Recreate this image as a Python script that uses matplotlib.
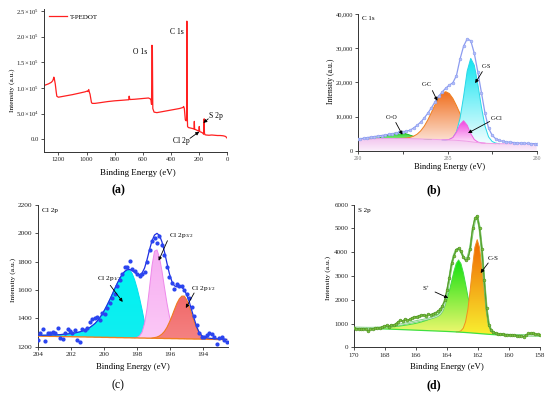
import numpy as np
import matplotlib
matplotlib.use('Agg')
import matplotlib.pyplot as plt
from matplotlib.colors import LinearSegmentedColormap
from matplotlib.patches import Polygon

plt.rcParams['font.family'] = ['Liberation Serif', 'DejaVu Serif']
plt.rcParams['mathtext.fontset'] = 'custom'
plt.rcParams['mathtext.rm'] = 'Liberation Serif'
plt.rcParams['mathtext.it'] = 'Liberation Serif:italic'
plt.rcParams['mathtext.bf'] = 'Liberation Serif:bold'

# ---------------- (a) survey spectrum ----------------
xa = [1300, 1290, 1270, 1250, 1240, 1235, 1232, 1228, 1222, 1215, 1211, 1200, 1180, 1150, 1100,
      1050, 1010, 995, 990, 984, 980, 975, 965, 960, 940, 900, 850, 800, 750, 705, 700, 697, 692,
      660, 620, 580, 560, 548, 542, 538, 535, 532, 529, 520, 500, 460, 420, 380, 340, 315, 310,
      305, 298, 292, 289, 287, 285, 282, 276, 260, 245, 236, 234, 232, 225, 210, 202, 199, 196,
      185, 178, 172, 168, 166, 164, 162, 158, 150, 130, 110, 90, 70, 50, 30, 15, 5, 0]
ya = [105e3, 106e3, 108e3, 111e3, 114e3, 118e3, 121e3, 117e3, 108e3, 92e3, 84e3, 82e3, 83e3, 84.5e3, 87e3,
      90e3, 92.5e3, 94e3, 93e3, 97e3, 92e3, 88e3, 72e3, 70e3, 70e3, 71.5e3, 73.5e3, 75e3, 76e3, 77e3, 77e3, 84e3, 77.5e3,
      78e3, 79e3, 80e3, 80.5e3, 79e3, 77e3, 68e3, 183e3, 178e3, 60e3, 53e3, 52e3, 54e3, 56e3, 58e3, 60e3, 62e3, 64e3,
      60e3, 38e3, 36e3, 40e3, 230e3, 60e3, 25e3, 23e3, 22e3, 21e3, 20e3, 35e3, 20e3, 19e3, 17e3, 16e3, 25e3, 15e3,
      14e3, 13e3, 11.5e3, 10e3, 38e3, 40e3, 12e3, 9e3, 8.5e3, 8e3, 8.5e3, 8e3, 7.5e3, 7.5e3, 7e3, 6e3, 4e3, 2e3]
a_yticks = [0, 5e4, 1e5, 1.5e5, 2e5, 2.5e5]
a_yticklabels = ['0.0', '5.0×10$^4$', '1.0×10$^5$', '1.5×10$^5$', '2.0×10$^5$', '2.5×10$^5$']
a_xticks = [1200, 1000, 800, 600, 400, 200, 0]

# ---------------- (b) C 1s ----------------
xb = [290.0, 289.9, 289.7, 289.5, 289.3, 289.1, 288.9, 288.7, 288.5, 288.3, 288.1, 287.9, 287.7,
      287.5, 287.3, 287.1, 286.9, 286.7, 286.5, 286.3, 286.1, 285.9, 285.7, 285.5, 285.3, 285.1,
      284.9, 284.7, 284.5, 284.3, 284.1, 283.9, 283.7, 283.5, 283.3, 283.1, 282.9, 282.7, 282.5,
      282.3, 282.1, 281.9, 281.7, 281.5, 281.3, 281.1, 280.9, 280.7, 280.5, 280.3, 280.1, 280.0]
data_b = [3400, 3500, 3650, 3850, 4000, 4150, 4300, 4450, 4600, 4780,
          4950, 5150, 5400, 5580, 5700, 6000, 6650, 7450, 8400, 9600,
          11000, 12600, 14300, 15900, 17200, 18300, 19200, 19900, 22000, 26800,
          30600, 32700, 32200, 28500, 23000, 17000, 11000, 6600, 4500, 3500,
          3000, 2750, 2600, 2500, 2400, 2300, 2250, 2200, 2150, 2100, 2050, 2050]
base_b = [3400, 3420, 3450, 3480, 3500, 3520, 3540, 3560, 3570, 3580, 3590, 3590, 3580, 3570,
          3550, 3530, 3500, 3470, 3440, 3400, 3370, 3330, 3300, 3260, 3220, 3180, 3140, 3090,
          3030, 2960, 2870, 2760, 2630, 2500, 2380, 2280, 2200, 2140, 2100, 2080, 2060] + [2050] * 11
co_b = [0] * 4 + [45, 105, 220, 415, 690, 1020, 1350, 1610, 1700, 1610, 1350, 1020, 690, 415, 220, 105, 45] + [0] * 31
cc_b = [0] * 12 + [30, 78, 175, 380, 750, 1390, 2400, 3830, 5710, 7900, 10180, 12200, 13600, 14100,
                   13600, 12200, 10180, 7900, 5710, 3830, 2400, 1390, 750, 380, 175, 78, 30] + [0] * 13
cs_b = [0] * 25 + [30, 150, 700, 2500, 6500, 13000, 20500, 24400, 22500, 17000, 10500, 5000, 1900, 600, 150] + [0] * 12
ccl_b = [0] * 25 + [20, 160, 770, 2390, 4700, 5900, 4700, 2390, 770, 160, 20] + [0] * 16
b_yticks = [0, 10000, 20000, 30000, 40000]
b_yticklabels = ['0', '10,000', '20,000', '30,000', '40,000']
b_xticks = [290, 285, 280]

# ---------------- (c) Cl 2p ----------------
xc = [204.00, 203.85, 203.70, 203.55, 203.40, 203.25, 203.10, 202.95, 202.80, 202.65, 202.50,
      202.35, 202.20, 202.05, 201.90, 201.75, 201.60, 201.45, 201.30, 201.15, 201.00, 200.85,
      200.70, 200.55, 200.40, 200.25, 200.10, 199.95, 199.80, 199.65, 199.50, 199.35, 199.20,
      199.05, 198.90, 198.75, 198.60, 198.45, 198.30, 198.15, 198.00, 197.85, 197.70, 197.55,
      197.40, 197.25, 197.10, 196.95, 196.80, 196.65, 196.50, 196.35, 196.20, 196.05, 195.90,
      195.75, 195.60, 195.45, 195.30, 195.15, 195.00, 194.85, 194.70, 194.55, 194.40, 194.25,
      194.10, 193.95, 193.80, 193.65, 193.50, 193.35, 193.20, 193.05, 192.90, 192.75, 192.60]
dots_c = [1250, 1300, 1325, 1240, 1295, 1300, 1305, 1300, 1330, 1260, 1255,
          1300, 1325, 1310, 1300, 1320, 1245, 1230, 1325, 1320, 1335, 1375,
          1395, 1405, 1410, 1390, 1440, 1430, 1470, 1505, 1545, 1575, 1625,
          1670, 1710, 1760, 1760, 1805, 1745, 1735, 1715, 1700, 1715, 1730,
          1800, 1880, 1945, 1965, 1935, 1980, 1915, 1850, 1760, 1690, 1650,
          1605, 1640, 1625, 1630, 1600, 1570, 1545, 1480, 1415, 1350, 1300,
          1270, 1265, 1285, 1295, 1290, 1270, 1220, 1260, 1265, 1245, 1235]
env_c = [1281, 1281, 1281, 1281, 1282, 1282, 1283, 1284, 1284, 1285, 1287,
         1288, 1290, 1292, 1294, 1297, 1301, 1305, 1311, 1318, 1326, 1336,
         1349, 1363, 1382, 1405, 1431, 1462, 1496, 1532, 1570, 1609, 1647,
         1681, 1710, 1731, 1743, 1745, 1738, 1724, 1712, 1708, 1720, 1755,
         1815, 1885, 1948, 1988, 2000, 1985, 1940, 1870, 1790, 1715, 1660,
         1630, 1622, 1625, 1620, 1600, 1565, 1515, 1455, 1395, 1340, 1300,
         1278, 1268, 1263, 1260, 1258, 1257, 1256, 1255, 1254, 1253, 1252]
base_c = [1275, 1275, 1274, 1274, 1274, 1273, 1273, 1273, 1272, 1272, 1272,
          1271, 1271, 1271, 1270, 1270, 1270, 1269, 1269, 1269, 1268, 1268,
          1268, 1267, 1267, 1267, 1266, 1266, 1266, 1265, 1265, 1265, 1264,
          1264, 1264, 1263, 1263, 1263, 1262, 1262, 1262, 1261, 1261, 1261,
          1260, 1260, 1260, 1260, 1259, 1259, 1259, 1258, 1258, 1258, 1257,
          1257, 1257, 1256, 1256, 1256, 1255, 1255, 1255, 1254, 1254, 1254,
          1253, 1253, 1253, 1252, 1252, 1252, 1251, 1251, 1251, 1250, 1250]
cyan_c = [6, 6, 7, 7, 8, 9, 10, 11, 12, 13, 15, 17, 19, 21, 24, 27, 31, 36, 42, 49, 58, 68, 81, 96,
          115, 138, 165, 196, 230, 267, 305, 344, 382, 417, 446, 468, 480, 478, 455, 410, 350, 280,
          200, 110, 30, 5] + [0] * 31
pink_c = [0] * 40 + [4, 15, 42, 103, 209, 357, 512, 614, 624, 570, 475, 361, 250, 157, 91, 48, 23, 10, 4] + [0] * 18
red_c = [0] * 47 + [4, 9, 17, 30, 50, 78, 115, 158, 204, 248, 282, 301, 301, 275, 229, 174, 121, 76,
                    44, 23, 11, 5] + [0] * 8
c_yticks = [1200, 1400, 1600, 1800, 2000, 2200]
c_xticks = [204, 202, 200, 198, 196, 194]

# ---------------- (d) S 2p ----------------
xd = [170.00, 169.85, 169.70, 169.55, 169.40, 169.25, 169.10, 168.95, 168.80, 168.65,
      168.50, 168.35, 168.20, 168.05, 167.90, 167.75, 167.60, 167.45, 167.30, 167.15,
      167.00, 166.85, 166.70, 166.55, 166.40, 166.25, 166.10, 165.95, 165.80, 165.65,
      165.50, 165.35, 165.20, 165.05, 164.90, 164.75, 164.60, 164.45, 164.30, 164.15,
      164.00, 163.85, 163.70, 163.55, 163.40, 163.25, 163.10, 162.95, 162.80, 162.65,
      162.50, 162.35, 162.20, 162.05, 161.90, 161.75, 161.60, 161.45, 161.30, 161.15,
      161.00, 160.85, 160.70, 160.55, 160.40, 160.25, 160.10, 159.95, 159.80, 159.65,
      159.50, 159.35, 159.20, 159.05, 158.90, 158.75, 158.60, 158.45, 158.30, 158.15, 158.00]
data_d = [800, 790, 780, 770, 790, 760, 700, 760, 780, 800,
          820, 810, 850, 900, 930, 880, 950, 930, 1000, 1080,
          1150, 1100, 1200, 1140, 1180, 1250, 1280, 1300, 1330, 1350,
          1370, 1330, 1400, 1380, 1420, 1450, 1520, 1600, 1750, 1980,
          2430, 2930, 3540, 3850, 4110, 4170, 4050, 3790, 3660, 3750,
          4150, 5000, 5420, 5540, 5000, 4150, 2850, 1650, 950, 720,
          650, 600, 580, 560, 560, 540, 540, 530, 520, 510,
          500, 480, 470, 460, 520, 590, 600, 590, 560, 550, 520]
env_d = [830, 828, 826, 824, 822, 820, 819, 819, 820, 822,
         826, 832, 840, 850, 862, 876, 891, 907, 924, 942,
         961, 981, 1001, 1021, 1041, 1061, 1081, 1101, 1121, 1141,
         1161, 1182, 1204, 1228, 1255, 1288, 1330, 1400, 1540, 1800,
         2280, 2880, 3480, 3880, 4110, 4150, 4030, 3820, 3700, 3800,
         4200, 4850, 5350, 5480, 5050, 4100, 2800, 1650, 960, 720,
         630, 590, 565, 550, 540, 533, 528, 524, 521, 518,
         516, 514, 512, 511, 510, 509, 508, 507, 506, 505, 505]
base_d = [820, 818, 815, 812, 809, 806, 803, 800, 797, 794,
          790, 787, 783, 780, 776, 773, 769, 765, 762, 758,
          754, 750, 746, 742, 738, 734, 730, 726, 722, 718,
          714, 710, 706, 702, 698, 694, 690, 686, 682, 678,
          674, 669, 664, 659, 654, 648, 642, 636, 629, 622,
          615, 607, 600, 592, 584, 576, 568, 561, 554, 547,
          541, 535, 530, 526, 522, 519, 516, 514, 512, 510,
          508, 507, 506, 505, 504, 503, 502, 501, 501, 500, 500]
splus_d = [9, 11, 13, 15, 18, 21, 24, 28, 32, 37,
           42, 48, 55, 63, 72, 82, 94, 107, 121, 136,
           152, 170, 188, 207, 228, 250, 272, 297, 325, 355,
           390, 425, 465, 510, 560, 620, 700, 790, 910, 1090,
           1360, 1700, 2120, 2545, 2880, 3030, 2880, 2515, 2030, 1515,
           1120, 820, 590, 425, 303, 218, 158, 112, 79, 55,
           36, 24, 15, 9, 5, 2] + [0] * 15
cs_d = [0] * 45 + [16, 58, 176, 455, 989, 1813, 2790, 3615, 3940, 3615, 2790, 1813, 900, 380, 130, 40, 10] + [0] * 19
d_yticks = [0, 1000, 2000, 3000, 4000, 5000, 6000]
d_xticks = [170, 168, 166, 164, 162, 160, 158]


# ---------------- helpers ----------------
def grad_fill(ax, x, lo, hi, c_top, c_bot, z):
    x = np.asarray(x, float)
    lo = np.asarray(lo, float)
    hi = np.asarray(hi, float)
    verts = np.concatenate([np.column_stack([x, hi]), np.column_stack([x[::-1], lo[::-1]])])
    patch = Polygon(verts, closed=True, facecolor='none', edgecolor='none', transform=ax.transData)
    ax.add_patch(patch)
    cmap = LinearSegmentedColormap.from_list('g', [c_bot, c_top])
    grad = np.linspace(0, 1, 256).reshape(-1, 1)
    im = ax.imshow(grad, cmap=cmap, origin='lower', aspect='auto',
                   extent=(x.min(), x.max(), lo.min(), hi.max()), zorder=z,
                   interpolation='bilinear')
    im.set_clip_path(patch)


def component(ax, x, base, peak, c_top, c_bot, edge, z, lw=0.7):
    x = np.asarray(x, float)
    base = np.asarray(base, float)
    peak = np.asarray(peak, float)
    nz = np.nonzero(peak)[0]
    i0 = max(nz[0] - 1, 0)
    i1 = min(nz[-1] + 2, len(x))
    xs = x[i0:i1]
    lo = base[i0:i1]
    hi = lo + peak[i0:i1]
    grad_fill(ax, xs, lo, hi, c_top, c_bot, z)
    ax.plot(xs, hi, color=edge, lw=lw, zorder=z + 0.5)


def style(ax, fs):
    for s in ['top', 'right']:
        ax.spines[s].set_visible(False)
    for s in ['left', 'bottom']:
        ax.spines[s].set_linewidth(0.7)
        ax.spines[s].set_color('#333333')
    ax.tick_params(direction='out', length=2.5, width=0.6, labelsize=fs, pad=1.5,
                   color='#333333', labelcolor='#222222')


def arrow(ax, tail, head):
    ax.annotate('', xy=head, xytext=tail,
                arrowprops=dict(arrowstyle='-|>', color='black', lw=0.6,
                                mutation_scale=5, shrinkA=0, shrinkB=0), zorder=10)


fig = plt.figure(figsize=(5.5, 3.96), dpi=100)

# ================= (a) =================
axA = fig.add_axes([0.0805, 0.6169, 0.3327, 0.3596])
axA.plot(xa, ya, color='#ff2020', lw=0.9, label='T-PEDOT')
axA.set_xlim(1300, 0)
axA.set_ylim(-24000, 253000)
axA.set_xticks(a_xticks)
axA.set_yticks(a_yticks)
axA.set_yticklabels(a_yticklabels)
style(axA, 4.8)
axA.legend(loc='upper left', frameon=False, fontsize=5, handlelength=2.6,
           borderaxespad=0.25, handletextpad=0.5)
axA.text(620, 1.69e5, 'O 1s', fontsize=5.5, ha='center', va='center')
axA.text(359, 2.09e5, 'C 1s', fontsize=5.5, ha='center', va='center')
axA.text(80, 0.45e5, 'S 2p', fontsize=5.5, ha='center', va='center')
axA.text(324, -0.33e4, 'Cl 2p', fontsize=5.5, ha='center', va='center')
arrow(axA, (135, 0.40e5), (170, 0.32e5))
arrow(axA, (265, 0.2e4), (199, 1.5e4))
axA.set_xlabel('Binding Energy (eV)', fontsize=6.5)
axA.xaxis.label.set_va('center')
axA.xaxis.set_label_coords(0.512, -0.147)
axA.set_ylabel('Intensity (a.u.)', fontsize=5.3)
axA.yaxis.label.set_va('center')
axA.yaxis.set_label_coords(-0.174, 0.433)

# ================= (b) =================
axB = fig.add_axes([0.6515, 0.6194, 0.3244, 0.3452])
xb_arr = np.asarray(xb, float)
grad_fill(axB, xb_arr, np.zeros(len(xb)), base_b, '#f2c4ee', '#fbeefb', 1)
component(axB, xb, base_b, co_b, '#22d022', '#7ee87e', '#22b822', 2)
component(axB, xb, base_b, cc_b, '#f07020', '#fde8de', '#f08020', 3)
component(axB, xb, base_b, cs_b, '#10e4f0', '#f2feff', '#28d8e8', 4)
component(axB, xb, base_b, ccl_b, '#f040e0', '#fde4fa', '#f060e0', 5)
axB.plot(xb, base_b, color='#f0a0e8', lw=0.7, zorder=6)
axB.plot(xb, data_b, color='#8c9cf0', lw=0.9, marker='o', ms=2.0, mfc='#b4c0f8',
         mec='#8c9cf0', mew=0.4, zorder=7)
axB.set_xlim(290, 280)
axB.set_ylim(0, 40000)
axB.set_xticks(b_xticks)
axB.set_xticks([287.5, 282.5], minor=True)
axB.set_yticks(b_yticks)
axB.set_yticklabels(b_yticklabels)
style(axB, 4.6)
axB.tick_params(axis='x', which='both', labelsize=4.0, labelcolor='#777777')
axB.tick_params(axis='x', which='minor', length=2.0, width=0.5)
axB.text(0.022, 0.968, 'C 1s', transform=axB.transAxes, fontsize=5, ha='left', va='center')
axB.text(288.14, 9840, 'C=O', fontsize=4.3, ha='center', va='center')
arrow(axB, (287.9, 8260), (287.53, 4670))
axB.text(286.15, 19270, 'C-C', fontsize=4.3, ha='center', va='center')
arrow(axB, (285.85, 17600), (285.57, 14600))
axB.text(282.83, 24600, 'C-S', fontsize=4.3, ha='center', va='center')
arrow(axB, (283.05, 23150), (283.45, 19770))
axB.text(282.23, 9430, 'C-Cl', fontsize=4.3, ha='center', va='center')
arrow(axB, (282.64, 8560), (283.85, 5170))
axB.set_xlabel('Binding Energy (eV)', fontsize=6.0)
axB.xaxis.label.set_va('center')
axB.xaxis.set_label_coords(0.512, -0.117)
axB.set_ylabel('Intensity (a.u.)', fontsize=5.6)
axB.yaxis.label.set_va('center')
axB.yaxis.set_label_coords(-0.153, 0.505)

# ================= (c) =================
axC = fig.add_axes([0.0685, 0.1245, 0.3465, 0.3578])
component(axC, xc, base_c, cyan_c, '#00f2f2', '#10eef0', '#00e0f0', 2)
component(axC, xc, base_c, pink_c, '#f7aef2', '#fbc8f6', '#ee88ea', 3)
component(axC, xc, base_c, red_c, '#f06868', '#f58282', '#f07a20', 4, lw=0.8)
axC.plot(xc, base_c, color='#f08020', lw=1.0, zorder=5)
axC.plot(xc, env_c, color='#1f2fe0', lw=0.9, zorder=6)
axC.plot(xc, dots_c, ls='none', marker='o', ms=2.0, mfc='#2a44f0', mec='#2a44f0', zorder=7)
axC.set_xlim(204, 192.5)
axC.set_ylim(1200, 2200)
axC.set_xticks(c_xticks)
axC.set_yticks(c_yticks)
style(axC, 5.3)
axC.text(0.021, 0.96, 'Cl 2p', transform=axC.transAxes, fontsize=5.2, ha='left', va='center')
axC.text(199.66, 1678, 'Cl 2p$_{1/2}$', fontsize=5.3, ha='center', va='center')
arrow(axC, (199.62, 1633), (198.87, 1516))
axC.text(195.34, 1984, 'Cl 2p$_{3/2}$', fontsize=5.3, ha='center', va='center')
arrow(axC, (196.17, 1948), (196.7, 1807))
axC.text(194.02, 1610, 'Cl 2p$_{1/2}$', fontsize=5.3, ha='center', va='center')
arrow(axC, (194.56, 1579), (195.06, 1473))
axC.set_xlabel('Binding Energy (eV)', fontsize=6.3)
axC.xaxis.label.set_va('center')
axC.xaxis.set_label_coords(0.502, -0.145)
axC.set_ylabel('Intensity (a.u.)', fontsize=5.4)
axC.yaxis.label.set_va('center')
axC.yaxis.set_label_coords(-0.131, 0.473)

# ================= (d) =================
axD = fig.add_axes([0.6436, 0.1225, 0.3382, 0.3606])
component(axD, xd, base_d, splus_d, '#10e010', '#f4f870', '#40dd40', 2)
component(axD, xd, base_d, cs_d, '#f06400', '#f8f030', '#f09020', 3)
axD.plot(xd, base_d, color='#40e040', lw=0.9, zorder=4)
axD.plot(xd, env_d, color='#70d070', lw=1.6, zorder=5)
axD.plot(xd, env_d, color='#e8e8e8', lw=0.5, zorder=5.2)
axD.plot(xd, data_d, color='#5aa02c', lw=1.0, marker='o', ms=2.0, mfc='#7cc040',
         mec='#4a9020', mew=0.4, zorder=6)
axD.set_xlim(170, 158)
axD.set_ylim(0, 6000)
axD.set_xticks(d_xticks)
axD.set_yticks(d_yticks)
style(axD, 5.0)
axD.text(0.023, 0.961, 'S 2p', transform=axD.transAxes, fontsize=5.0, ha='left', va='center')
axD.text(165.37, 2471, 'S$^{+}$', fontsize=5.0, ha='center', va='center')
arrow(axD, (164.77, 2332), (163.92, 2080))
axD.text(161.01, 3719, 'C-S', fontsize=5.0, ha='center', va='center')
arrow(axD, (161.34, 3551), (161.83, 3130))
axD.set_xlabel('Binding Energy (eV)', fontsize=6.3)
axD.xaxis.label.set_va('center')
axD.xaxis.set_label_coords(0.501, -0.139)
axD.set_ylabel('Intensity (a.u.)', fontsize=5.4)
axD.yaxis.label.set_va('center')
axD.yaxis.set_label_coords(-0.138, 0.487)

# ---------------- panel letters ----------------
fig.text(118.3 / 550, 1 - 190 / 396, '(a)', fontsize=8.5, fontweight='bold', ha='center', va='center')
fig.text(434.3 / 550, 1 - 190 / 396, '(b)', fontsize=8.5, fontweight='bold', ha='center', va='center')
fig.text(118.3 / 550, 1 - 385.7 / 396, '(c)', fontsize=8.5, ha='center', va='center')
fig.text(434.3 / 550, 1 - 385.7 / 396, '(d)', fontsize=8.5, fontweight='bold', ha='center', va='center')

fig.savefig('out.png', dpi=100)
